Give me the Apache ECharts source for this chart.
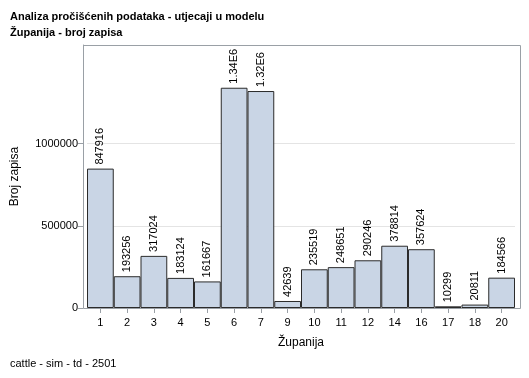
<!DOCTYPE html>
<html>
<head>
<meta charset="utf-8">
<script src="https://cdn.jsdelivr.net/npm/echarts@6/dist/echarts.min.js"></script>
<style>
html,body{margin:0;padding:0;background:#fff;}
#chart{width:529px;height:378px;}
</style>
</head>
<body>
<div id="chart"></div>
<script>
var categories = ['1','2','3','4','5','6','7','9','10','11','12','14','16','17','18','20'];
var values = [847916, 193256, 317024, 183124, 161667, 1340000, 1320000, 42639, 235519, 248651, 290246, 378814, 357624, 10299, 20811, 184566];
var yTicks = [0, 500000, 1000000];

var FONT = '"Liberation Sans", Arial, sans-serif';
var chart = echarts.init(document.getElementById('chart'), null, {renderer: 'canvas'});
chart.setOption({
  backgroundColor: '#ffffff',
  animation: false,
  title: [
    {text: 'Analiza pročišćenih podataka - utjecaji u modelu', left: 5, top: 6,
     textStyle: {fontFamily: FONT, fontSize: 11, fontWeight: 'bold', color: '#000'}},
    {text: 'Županija - broj zapisa', left: 5, top: 22,
     textStyle: {fontFamily: FONT, fontSize: 11, fontWeight: 'bold', color: '#000'}},
    {text: 'cattle - sim - td - 2501', left: 5, top: 353,
     textStyle: {fontFamily: FONT, fontSize: 11, fontWeight: 'normal', color: '#000'}}
  ],
  graphic: {
    elements: [{
      type: 'rect', left: 83, top: 45, z: 100, silent: true,
      shape: {width: 437, height: 263},
      style: {fill: 'transparent', stroke: '#9aa0a6', lineWidth: 1}
    }]
  },
  grid: {left: 87, right: 14, top: 45, bottom: 70, containLabel: false},
  xAxis: {
    type: 'category', data: categories,
    name: 'Županija', nameLocation: 'middle', nameGap: 29,
    nameTextStyle: {fontFamily: FONT, fontSize: 12, color: '#000'},
    axisLine: {show: true, lineStyle: {color: '#9aa0a6'}},
    axisTick: {show: true, alignWithLabel: true, length: 5, lineStyle: {color: '#9aa0a6'}},
    axisLabel: {fontFamily: FONT, fontSize: 11, color: '#000', margin: 9}
  },
  yAxis: {
    type: 'value', min: 0, max: 1600000, interval: 500000, offset: 4,
    name: 'Broj zapisa', nameLocation: 'middle', nameGap: 62, nameRotate: 90,
    nameTextStyle: {fontFamily: FONT, fontSize: 12, color: '#000'},
    axisLine: {show: true, lineStyle: {color: '#9aa0a6'}},
    axisTick: {show: true, length: 5, customValues: yTicks, lineStyle: {color: '#9aa0a6'}},
    axisLabel: {fontFamily: FONT, fontSize: 11, color: '#000', margin: 5, customValues: yTicks,
      formatter: function (v) { return yTicks.indexOf(v) >= 0 ? String(v) : ''; }},
    splitLine: {show: true, lineStyle: {color: ['#e4e4e4', '#e4e4e4', '#e4e4e4', 'rgba(0,0,0,0)', 'rgba(0,0,0,0)'], width: 1}}
  },
  series: [{
    type: 'bar', data: values, barCategoryGap: '0%',
    itemStyle: {color: '#c9d5e5', borderColor: '#2b2b2b', borderWidth: 1},
    label: {
      show: true, position: 'top', rotate: 90, align: 'left', verticalAlign: 'middle',
      distance: 4, fontFamily: FONT, fontSize: 11, color: '#000',
      formatter: function (p) {
        var v = p.value;
        return v >= 1000000 ? (v / 1000000).toFixed(2) + 'E6' : String(v);
      }
    }
  }]
});
</script>
</body>
</html>
